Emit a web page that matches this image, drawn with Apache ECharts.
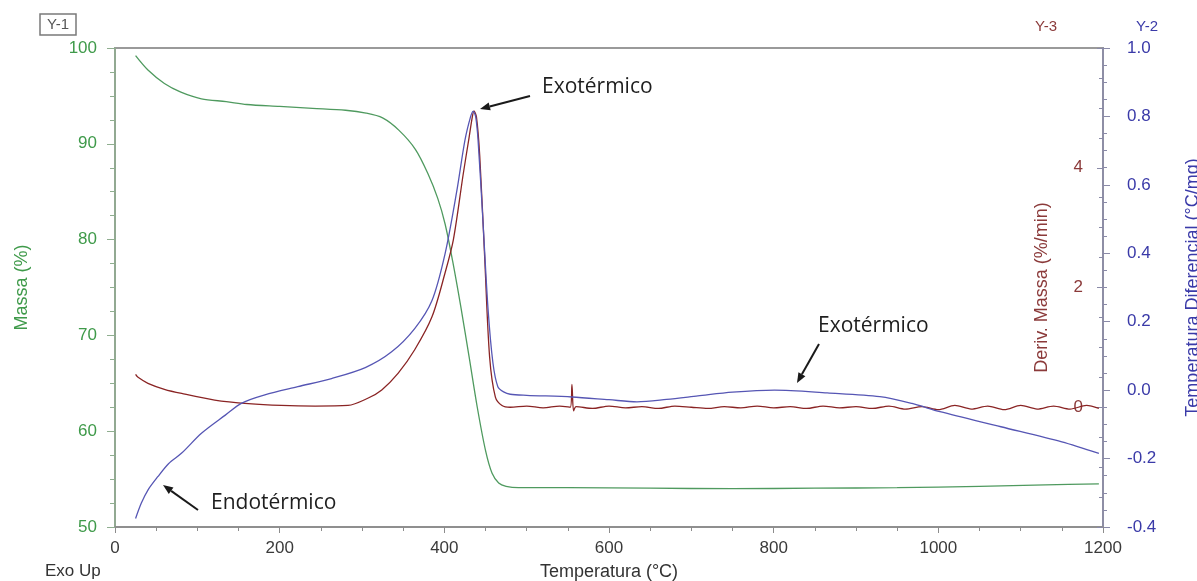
<!DOCTYPE html>
<html>
<head>
<meta charset="utf-8">
<title>TGA / DTA</title>
<script src="https://cdn.jsdelivr.net/npm/echarts@6/dist/echarts.min.js"></script>
<style>
  html, body { margin: 0; padding: 0; background: #fff; overflow: hidden; }
  #chart { width: 1197px; height: 581px; }
</style>
</head>
<body>
<div id="chart"></div>
<script>
// Massa (%) x Temperatura (°C)  -> Y-1
const massaTemp = [25, 40, 60, 80, 105, 135, 160, 200, 240, 280, 305, 325, 345, 365, 380, 392, 401, 410, 420, 430, 440, 450, 458, 466, 475, 490, 550, 650, 750, 850, 950, 1050, 1130, 1195];
const massaVal = [99.2, 97.7, 96.3, 95.4, 94.7, 94.4, 94.1, 93.9, 93.7, 93.5, 93.2, 92.7, 91.4, 89.4, 86.9, 84.3, 81.6, 77.8, 73.0, 67.8, 62.5, 58.0, 55.6, 54.6, 54.25, 54.1, 54.1, 54.05, 54.0, 54.05, 54.1, 54.25, 54.4, 54.5];

// Temperatura Diferencial (°C/mg) -> Y-2
const difTemp = [25, 32, 40, 52, 65, 81, 105, 134, 154, 182, 222, 263, 304, 336, 364, 385, 401, 415, 425, 432, 435, 438, 441, 447, 453, 459, 465, 472, 480, 500, 555, 600, 634, 670, 708, 750, 801, 865, 929, 968, 1002, 1076, 1150, 1195];
const difVal = [-0.375, -0.33, -0.292, -0.253, -0.215, -0.184, -0.126, -0.073, -0.038, -0.014, 0.010, 0.034, 0.066, 0.112, 0.18, 0.262, 0.40, 0.58, 0.73, 0.80, 0.815, 0.80, 0.73, 0.49, 0.24, 0.08, 0.01, -0.005, -0.012, -0.015, -0.02, -0.028, -0.034, -0.027, -0.017, -0.006, 0.0, -0.008, -0.019, -0.039, -0.063, -0.107, -0.151, -0.185];

// Deriv. Massa (%/min) -> Y-3
const derivTemp = [25, 28, 40, 60, 81, 121, 162, 202, 243, 283, 307, 324, 344, 364, 385, 401, 411, 423, 430, 434, 436, 439, 443, 449, 455, 462, 470, 480, 500, 520, 540, 553, 555, 557, 560, 580, 600, 620, 640, 660, 680, 700, 720, 740, 760, 780, 800, 820, 840, 860, 880, 900, 920, 940, 960, 980, 1000, 1020, 1040, 1060, 1080, 1100, 1120, 1140, 1160, 1180, 1195];
const derivVal = [0.55, 0.5, 0.40, 0.30, 0.23, 0.12, 0.06, 0.03, 0.02, 0.03, 0.15, 0.29, 0.57, 0.96, 1.51, 2.25, 2.8, 3.9, 4.5, 4.85, 4.95, 4.85, 4.2, 2.5, 0.84, 0.17, 0.03, 0.0, 0.02, -0.01, 0.02, 0.0, 0.38, -0.06, 0.01, -0.02, 0.02, -0.01, 0.01, -0.02, 0.02, 0.0, -0.02, 0.01, -0.01, 0.02, -0.01, 0.01, -0.02, 0.02, -0.01, 0.01, -0.02, 0.02, -0.03, 0.01, -0.04, 0.03, -0.03, 0.02, -0.04, 0.03, -0.03, 0.02, -0.03, 0.03, -0.02];

const xTicks = [0, 200, 400, 600, 800, 1000, 1200];

function pairs(xs, ys) {
  return xs.map((x, i) => [x, ys[i]]);
}

const GREEN = '#4f9a5f';
const BLUE = '#5656b4';
const RED = '#8a2424';
const font = 'Liberation Sans, Arial, sans-serif';

let chart = echarts.init(document.getElementById('chart'));

function arrow(x1, y1, x2, y2) {
  let a = Math.atan2(y2 - y1, x2 - x1);
  let L = 10, W = 4;
  let bx = x2 - L * Math.cos(a), by = y2 - L * Math.sin(a);
  return [
    {type: 'line', shape: {x1: x1, y1: y1, x2: bx, y2: by}, style: {stroke: '#1a1a1a', lineWidth: 2}},
    {type: 'polygon', shape: {points: [[x2, y2], [bx + W * Math.sin(a), by - W * Math.cos(a)], [bx - W * Math.sin(a), by + W * Math.cos(a)]]}, style: {fill: '#1a1a1a'}}
  ];
}

function note(txt, x, y) {
  return {type: 'text', x: x, y: y, style: {text: txt, fill: '#1e1e1e', font: '21px "Open Sans", sans-serif', textVerticalAlign: 'middle'}};
}

let graphics = [
  {type: 'rect', shape: {x: 40, y: 14, width: 36, height: 21}, style: {fill: 'none', stroke: '#7a7a7a', lineWidth: 1.5}},
  {type: 'text', x: 58, y: 25, style: {text: 'Y-1', fill: '#555', font: '15px ' + font, textAlign: 'center', textVerticalAlign: 'middle'}},
  {type: 'text', x: 1046, y: 27, style: {text: 'Y-3', fill: '#8b3a3a', font: '15px ' + font, textAlign: 'center', textVerticalAlign: 'middle'}},
  {type: 'text', x: 1147, y: 27, style: {text: 'Y-2', fill: '#3a3aa8', font: '15px ' + font, textAlign: 'center', textVerticalAlign: 'middle'}},
  {type: 'text', x: 45, y: 571, style: {text: 'Exo Up', fill: '#333', font: '17px ' + font, textVerticalAlign: 'middle'}},
  note('Exotérmico', 542, 87),
  note('Exotérmico', 818, 326),
  note('Endotérmico', 211, 503)
]
  .concat(arrow(530, 96, 480, 109))
  .concat(arrow(819, 344, 797, 383))
  .concat(arrow(198, 510, 163, 485));

let option = {
  animation: false,
  grid: {left: 115, right: 94, top: 48, bottom: 54, show: true, borderColor: '#9a9a9a', borderWidth: 2,
    containLabel: false, outerBoundsMode: 'none'},
  xAxis: {
    type: 'value', min: 0, max: 1200, interval: 200,
    axisLine: {onZero: false, lineStyle: {color: '#8c8c8c', width: 1.5}},
    axisTick: {length: 6, lineStyle: {color: '#8c8c8c'}},
    minorTick: {show: true, splitNumber: 4, length: 4, lineStyle: {color: '#8c8c8c'}},
    splitLine: {show: false},
    axisLabel: {fontSize: 17, color: '#3a3a3a', margin: 13, fontFamily: font,
      formatter: v => xTicks.indexOf(v) >= 0 ? String(v) : ''},
    name: 'Temperatura (°C)', nameLocation: 'middle', nameGap: 36, nameMoveOverlap: false,
    nameTextStyle: {fontSize: 18, color: '#333', fontFamily: font}
  },
  yAxis: [
    {
      type: 'value', position: 'left', min: 50, max: 100, interval: 10,
      axisLine: {show: true, lineStyle: {color: '#8fae8f', width: 1.5}},
      axisTick: {show: true, length: 8, lineStyle: {color: '#8fae8f'}},
      minorTick: {show: true, splitNumber: 4, length: 5, lineStyle: {color: '#8fae8f'}},
      splitLine: {show: false},
      axisLabel: {fontSize: 17, color: '#3f9a4a', fontFamily: font, margin: 18},
      name: 'Massa (%)', nameLocation: 'middle', nameGap: 84, nameRotate: 90, nameMoveOverlap: false,
      nameTextStyle: {fontSize: 18, color: '#3f9a4a', fontFamily: font}
    },
    {
      type: 'value', position: 'right', min: -0.4, max: 1.0, interval: 0.2,
      axisLine: {show: true, lineStyle: {color: '#8a8aa8', width: 1.5}},
      axisTick: {show: true, length: 7, lineStyle: {color: '#8a8aa8'}},
      minorTick: {show: true, splitNumber: 4, length: 4, lineStyle: {color: '#8a8aa8'}},
      splitLine: {show: false},
      axisLabel: {fontSize: 17, color: '#3a3aa8', fontFamily: font, margin: 24, formatter: v => v.toFixed(1)},
      name: 'Temperatura Diferencial (°C/mg)', nameLocation: 'middle', nameGap: 81, nameRotate: 90, nameMoveOverlap: false,
      nameTextStyle: {fontSize: 18, color: '#3a3aa8', fontFamily: font}
    },
    {
      type: 'value', position: 'right', min: -2, max: 6, interval: 2,
      axisLine: {show: false},
      axisTick: {show: true, inside: true, length: 6, lineStyle: {color: '#8a8aa8'}},
      minorTick: {show: true, splitNumber: 4, length: 4, lineStyle: {color: '#8a8aa8'}},
      splitLine: {show: false},
      axisLabel: {inside: true, fontSize: 17, color: '#8b3a3a', fontFamily: font, margin: 20,
        formatter: v => (v === -2 || v === 6) ? '' : String(v)},
      name: 'Deriv. Massa (%/min)', nameLocation: 'middle', nameGap: -70, nameRotate: 90, nameMoveOverlap: false,
      nameTextStyle: {fontSize: 18, color: '#8b3a3a', fontFamily: font}
    }
  ],
  series: [
    {
      name: 'Massa', type: 'line', yAxisIndex: 0, data: pairs(massaTemp, massaVal),
      showSymbol: false, smooth: 0.3, lineStyle: {color: GREEN, width: 1.3}, itemStyle: {color: GREEN}
    },
    {
      name: 'Deriv. Massa', type: 'line', yAxisIndex: 2, data: pairs(derivTemp, derivVal),
      showSymbol: false, smooth: 0.3, lineStyle: {color: RED, width: 1.3}, itemStyle: {color: RED}
    },
    {
      name: 'Temperatura Diferencial', type: 'line', yAxisIndex: 1, data: pairs(difTemp, difVal),
      showSymbol: false, smooth: 0.3, lineStyle: {color: BLUE, width: 1.3}, itemStyle: {color: BLUE}
    }
  ],
  graphic: graphics
};

chart.setOption(option);
</script>
</body>
</html>
